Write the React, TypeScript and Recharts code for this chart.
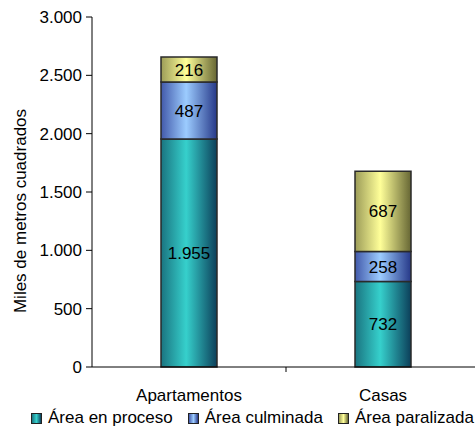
import { BarChart, Bar, XAxis, YAxis, LabelList, Legend } from 'recharts';

const CATEGORIES = ['Apartamentos', 'Casas'];
const EN_PROCESO = [1955, 732];
const CULMINADA = [487, 258];
const PARALIZADA = [216, 687];
const Y_TICKS = [0, 500, 1000, 1500, 2000, 2500, 3000];

const data = CATEGORIES.map((name, i) => ({
  name,
  proceso: EN_PROCESO[i],
  culminada: CULMINADA[i],
  paralizada: PARALIZADA[i],
}));

const FONT = '"Liberation Sans", Arial, sans-serif';
const FS = 17;

// dark edge / light centre, like the old office cylinder-ish bars
const SERIES = [
  { key: 'proceso', name: 'Área en proceso', id: 'gTeal', edge: '#1a7480', mid: '#36d0cc', dark: '#0c3f5a' },
  { key: 'culminada', name: 'Área culminada', id: 'gBlue', edge: '#4259aa', mid: '#9cccff', dark: '#263888' },
  { key: 'paralizada', name: 'Área paralizada', id: 'gYellow', edge: '#9c9c58', mid: '#ffff99', dark: '#666634' },
];

const fmt = (v: number) => v.toLocaleString('de-DE');

// label at category centre, tick mark between categories (excel style)
function XTick({ x, y, payload }: any) {
  const half = 97;
  return (
    <g>
      <line x1={x + half} y1={y - 8} x2={x + half} y2={y - 3} stroke="#000" />
      <text x={x} y={y + 26} textAnchor="middle" fontSize={FS} fontFamily={FONT} fill="#000">
        {payload.value}
      </text>
    </g>
  );
}

function YLabel({ viewBox }: any) {
  const cx = 20;
  const cy = viewBox.y + viewBox.height / 2 + 19;
  return (
    <text
      x={cx}
      y={cy}
      transform={`rotate(-90, ${cx}, ${cy})`}
      textAnchor="middle"
      dominantBaseline="central"
      fontSize={FS}
      fontFamily={FONT}
      fill="#000"
    >
      Miles de metros cuadrados
    </text>
  );
}

function LegendContent() {
  return (
    <div style={{ display: 'flex', fontFamily: FONT, fontSize: FS, color: '#000', paddingLeft: 31, whiteSpace: 'nowrap' }}>
      {SERIES.map((s) => (
        <div key={s.key} style={{ display: 'flex', alignItems: 'center', marginRight: 15 }}>
          <span
            style={{
              display: 'inline-block',
              width: 9,
              height: 9,
              border: '1px solid #222',
              background: `linear-gradient(to right, ${s.edge}, ${s.mid}, ${s.dark})`,
              marginRight: 6,
            }}
          />
          {s.name}
        </div>
      ))}
    </div>
  );
}

export default function App() {
  return (
    <div style={{ position: 'absolute', left: 0, top: 0, width: 475, height: 433, overflow: 'hidden', background: '#fff' }}>
      <BarChart
        width={480}
        height={433}
        data={data}
        margin={{ top: 17, right: 0, bottom: 5, left: 0 }}
        barSize={56}
      >
        <defs>
          {SERIES.map((s) => (
            <linearGradient key={s.id} id={s.id} x1="0" y1="0" x2="1" y2="0">
              <stop offset="0%" stopColor={s.edge} />
              <stop offset="45%" stopColor={s.mid} />
              <stop offset="100%" stopColor={s.dark} />
            </linearGradient>
          ))}
        </defs>
        <YAxis
          width={92}
          domain={[0, 3000]}
          ticks={Y_TICKS}
          interval={0}
          tickFormatter={fmt}
          tick={{ fontSize: FS, fontFamily: FONT, fill: '#000' }}
          axisLine={{ stroke: '#000' }}
          tickLine={{ stroke: '#000' }}
          tickSize={6}
          tickMargin={4}
          label={<YLabel />}
        />
        <XAxis
          dataKey="name"
          height={41}
          axisLine={{ stroke: '#000' }}
          tickLine={false}
          tick={<XTick />}
          interval={0}
        />
        <Legend verticalAlign="bottom" align="left" content={<LegendContent />} />
        {SERIES.map((s) => (
          <Bar
            key={s.key}
            dataKey={s.key}
            name={s.name}
            stackId="a"
            fill={`url(#${s.id})`}
            stroke="#2a2a2a"
            strokeWidth={1.5}
            isAnimationActive={false}
          >
            <LabelList
              dataKey={s.key}
              position="center"
              formatter={(v: any) => fmt(Number(v))}
              style={{ fontSize: FS, fontFamily: FONT, fill: '#000' }}
            />
          </Bar>
        ))}
      </BarChart>
    </div>
  );
}
